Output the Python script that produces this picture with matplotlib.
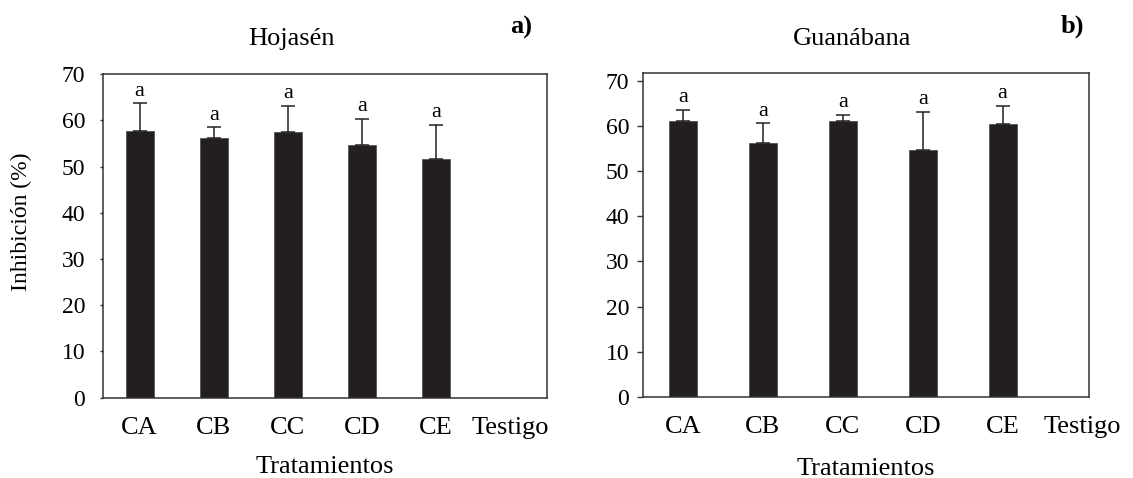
import matplotlib
matplotlib.use("Agg")
import matplotlib.pyplot as plt

categories = ["CA", "CB", "CC", "CD", "CE", "Testigo"]
hoja_vals = [57.8, 56.2, 57.5, 54.6, 51.7]
hoja_err = [5.9, 2.3, 5.7, 5.7, 7.3]
guan_vals = [61.2, 56.3, 61.2, 54.7, 60.5]
guan_err = [2.4, 4.3, 1.2, 8.5, 4.0]
letters_h = ["a", "a", "a", "a", "a"]
letters_g = ["a", "a", "a", "a", "a"]
yticks = [0, 10, 20, 30, 40, 50, 60, 70]

plt.rcParams['font.family'] = ['Liberation Serif', 'DejaVu Serif']

fig = plt.figure(figsize=(11.33, 4.78), dpi=100)
ax1 = fig.add_axes([0.0906, 0.168, 0.3922, 0.6766])
ax2 = fig.add_axes([0.5675, 0.170, 0.3936, 0.6766])

barcol = '#231f20'
edge = '#333333'

def panel(ax, vals, errs, letters, xlim, ylim, width, ypad, ylen):
    x = list(range(len(vals)))
    ax.bar(x, vals, width=width, color=barcol, edgecolor='#555555', linewidth=0.6, zorder=2)
    ax.errorbar(x, vals, yerr=[[0]*len(errs), errs], fmt='none', ecolor='#222222',
                elinewidth=1.1, capsize=5, capthick=1.1, zorder=3)
    for xi, v, e, l in zip(x, vals, errs, letters):
        ax.annotate(l, (xi, v + e), xytext=(0, 2), textcoords='offset points',
                    ha='center', va='bottom', fontsize=16)
    ax.set_xlim(*xlim)
    ax.set_ylim(*ylim)
    ax.set_xticks(range(len(categories)))
    ax.set_xticklabels(categories, fontsize=19)
    ax.set_yticks(yticks)
    ax.set_yticklabels([str(t) for t in yticks], fontsize=17)
    ax.tick_params(axis='x', length=0, pad=14)
    ax.tick_params(axis='y', length=ylen, width=1, color=edge, pad=ypad)
    for s in ax.spines.values():
        s.set_color(edge)
        s.set_linewidth(1.1)

panel(ax1, hoja_vals, hoja_err, letters_h, (-0.5, 5.5), (0, 70), 0.38, 10, 2.5)
panel(ax2, guan_vals, guan_err, letters_g, (-0.5, 5.08), (0, 71.7), 0.35, 6, 4)

ax1.set_ylabel("Inhibición (%)", fontsize=17)
ax1.yaxis.set_label_coords(-0.158, 0.544)
ax1.set_xlabel("Tratamientos", fontsize=19, labelpad=12)
ax2.set_xlabel("Tratamientos", fontsize=19, labelpad=14)

fig.text(291.5/1133, 1 - 45/478, "Hojasén", ha='center', va='baseline', fontsize=19)
fig.text(852/1133, 1 - 45/478, "Guanábana", ha='center', va='baseline', fontsize=19)
fig.text(521/1133, 1 - 34/478, "a)", ha='center', va='baseline', fontsize=19, fontweight='bold')
fig.text(1072/1133, 1 - 33/478, "b)", ha='center', va='baseline', fontsize=19, fontweight='bold')

fig.savefig("out.png", dpi=100)
